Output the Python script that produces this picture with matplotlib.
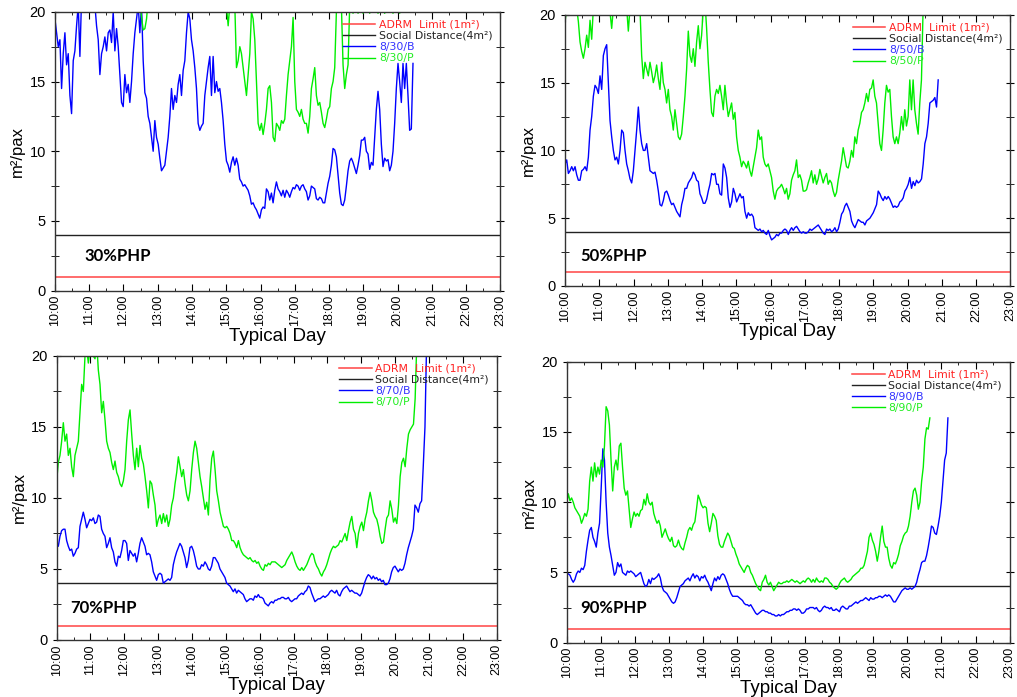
import matplotlib
matplotlib.use("Agg")
import matplotlib.pyplot as plt
import numpy as np
from matplotlib.ticker import MultipleLocator

plt.rcParams['font.family'] = ['Liberation Sans', 'DejaVu Sans']

# occupancy (m2/pax), regular samples (~3 min) between a start and end hour
b30 = [19.5, 18.5, 17.5, 18.0, 14.5, 17, 18.5, 16.2, 17, 14, 12.7, 16.5, 17.2, 19, 20.5, 16.8, 21, 21, 21, 21,
       21, 21, 21, 21, 20.5, 19, 18, 15.5, 17, 17.5, 18.2, 17.2, 18.5, 18.7, 17.8, 20, 17.2, 18.8, 17.5, 15.5,
       13.5, 13.2, 15.5, 14.2, 14.8, 13.5, 15, 17, 18.5, 19.5, 20.5, 18.5, 20.5, 16.5, 14.2, 13.8, 12.5, 12, 11, 10,
       12.2, 11, 10.5, 9.5, 8.6, 8.8, 9, 10, 11, 12.5, 14.5, 13, 14, 13.5, 14.8, 15.5, 14, 15.8, 16.5, 18.5,
       20, 19.5, 18, 17.2, 16, 14.5, 12, 11.5, 11.8, 12, 14, 15, 16, 16.8, 14, 16.8, 14.2, 15, 14.3, 14.5,
       13.5, 12.2, 10.5, 9.3, 9, 8.5, 9.2, 9.6, 9, 9.5, 9, 8, 7.8, 7.5, 7.6, 7.4, 7.2, 6.8, 6.2, 6.3,
       6, 5.8, 5.5, 5.2, 5.8, 6, 5.9, 7.3, 7.1, 6.5, 7, 6.3, 7.2, 7.8, 7.3, 7.1, 6.8, 7.2, 6.7, 7.2,
       7, 6.7, 7.1, 7.4, 7.3, 7.6, 7.5, 7.2, 7.5, 7.6, 7.3, 7.1, 6.5, 6.8, 7.5, 7.4, 7.3, 6.6, 6.5, 6.7,
       6.6, 6.3, 6.3, 7, 7.7, 8.2, 9, 10.2, 10.1, 9.6, 8.3, 7, 6.2, 6.1, 6.5, 7.5, 8.6, 9.3, 9.5, 9.2,
       8.8, 8.4, 9, 9.7, 10.8, 10.8, 11, 10, 9.8, 8.7, 9.2, 9, 11, 13, 14.3, 13, 10.5, 8.9, 9.5, 9.3,
       9.4, 8.6, 9, 10, 12, 14.5, 16.3, 15, 13.5, 16.3, 14.5, 16.3, 14, 11.5, 11.6, 16.3]
g30 = [21, 19.6, 18.7, 18.8, 19.5, 21,
       21.5, 22, 22.5, 22, 21.5, 22, 23, 22.5, 22, 21.5, 22, 22.5, 23, 22.5, 22, 21.5, 22, 22.5, 23, 22.5,
       22, 21.5, 22, 22.5, 23, 22.5, 22, 21.5, 22, 22.5, 23, 22.5, 22, 21.5, 22, 22.5, 23, 22.5, 22, 21.5,
       21, 20.8, 21, 21.5, 21, 20.8,
       20.4, 19.0, 20.5, 21, 21.5, 20.5, 16, 16.5, 17.5, 17, 16, 15, 14, 15.5, 17, 20, 19.5, 18, 15, 12,
       11.5, 12, 11.2, 12, 13, 14.5, 14.7, 13.5, 11, 10.7, 12, 11.8, 11.5, 12.2, 12, 12.3, 14, 15.5, 16.5, 17.5,
       19.6, 15, 13, 12.8, 12.5, 13, 12.3, 12, 12, 11.3, 12.5, 14.5, 15.2, 16, 14, 13.3, 13.5, 12.8, 12, 11.7,
       12.3, 13, 13.2, 14.5, 15, 16, 20, 20.5, 20.2, 20.5, 16.2, 14.5, 15.5, 16.2, 20.5,
       20.2, 19.9, 20.4, 20.6, 19.9, 20.3, 20.5, 19.9, 20.2, 20.6, 20.4, 19.9, 20.3, 20.6, 20.5, 20.2, 19.9,
       20.4, 20.6, 20.3, 19.9, 20.2, 20.5, 20.6, 20.3, 19.9, 20.4, 20.5, 20.2, 19.9, 20.3, 20.6, 20.4, 20.5,
       20.3, 20.6, 20.5, 20.4]
b50 = [9, 9.3, 8.3, 8.5, 8.8, 8.5, 8.8, 8.2, 7.8, 7.8, 8.5, 8.6, 8.8, 8.5, 9.5, 11.5, 12.5, 14, 14.8, 14.6,
       14.2, 15.5, 14.5, 17, 17.5, 17.8, 15, 12.2, 11, 10, 9.3, 9.5, 9.0, 10, 11.5, 11.3, 10, 9, 8.5, 7.9,
       7.6, 8.5, 10, 11.5, 13.2, 11.5, 10.5, 10, 10, 10.5, 9.5, 8.5, 8.4, 8.3, 8.4, 7.8, 7, 6, 5.9, 6.3,
       6.9, 7, 6.7, 6.3, 6, 6.1, 5.8, 5.5, 5.3, 5.1, 6, 6.5, 7.2, 7.2, 7.6, 7.8, 8, 8.4, 8.2, 7.8,
       7.7, 6.8, 6.5, 6.1, 6.1, 6.4, 7, 7.5, 8.3, 8.2, 8.3, 7.5, 7.5, 6.8, 6.7, 9, 8.7, 8, 6.5, 5.8,
       6.2, 7.2, 6.8, 6.2, 6.5, 6.8, 6.5, 6.6, 5.5, 5.0, 5.4, 5.2, 5.3, 5.1, 4.3, 4.2, 4.1, 4.2, 4, 4.1,
       3.9, 3.8, 4.1, 3.7, 3.4, 3.5, 3.6, 3.8, 3.7, 3.9, 3.9, 4.1, 4.2, 4.1, 3.8, 4.1, 4.3, 4.1, 4.3, 4.4,
       4.2, 4.0, 3.9, 4, 3.9, 3.9, 4, 4.2, 4.1, 4.2, 4.3, 4.4, 4.5, 4.3, 4.1, 3.9, 3.8, 4.2, 4.1, 4.2,
       4, 4.1, 4.3, 4.0, 4.2, 4.7, 5.3, 5.5, 5.9, 6.1, 5.8, 5.5, 4.8, 4.5, 4.3, 4.6, 4.9, 4.8, 4.7, 4.7,
       4.5, 4.8, 4.9, 5, 5.2, 5.4, 5.7, 6.0, 7, 6.8, 6.5, 6.3, 6.6, 6.4, 6.6, 6.4, 6.1, 5.8, 5.9, 5.8,
       5.9, 6.2, 6.3, 6.5, 7, 7.2, 7.5, 8, 7.2, 7.7, 7.4, 7.8, 7.6, 7.7, 7.9, 9, 10.5, 11, 12, 13.5,
       13.6, 13.7, 13.9, 13.2, 15.2]
g50 = [19.5, 20.5, 21, 21, 21, 21, 21, 20.5, 19.5, 18, 17.3, 16.8, 17.5, 18.5, 17.6, 19.6, 18.2, 20.5, 21, 21,
       21, 21, 21, 21, 21, 21, 20.5, 20.2, 19.0, 20.5, 21, 21, 21, 21, 21, 21, 21, 20.5, 18.8, 20.5,
       21, 21, 21, 21, 21, 20.5, 17, 15.3, 16.5, 16, 15.5, 16.5, 15.8, 15, 15.5, 16.3, 15.3, 14.5, 16.5, 15,
       14.5, 13.5, 14.5, 13, 12.5, 11.5, 13, 12, 11, 10.8, 11.2, 12.5, 14, 16, 18.8, 17, 16.5, 17.5, 16.2, 18,
       19.2, 17.5, 18.5, 20.5, 21, 19, 16.5, 14.5, 12.8, 12.5, 14, 14.5, 14.2, 14.8, 14, 13, 14.8, 13.5, 12.5, 13,
       13.5, 12.3, 12.8, 11, 10, 9.5, 8.8, 9.2, 9.0, 8.7, 9.2, 8.5, 8.1, 8.8, 9.5, 10.2, 11.5, 10.8, 11, 9.5,
       9, 8.8, 9, 8.5, 8, 7, 6.4, 7, 7.2, 7.3, 7.5, 7.2, 6.8, 7.2, 6.4, 6.8, 7.8, 8.2, 8.5, 9.3,
       8, 8.2, 7.8, 7, 7, 7.1, 7.6, 8, 8.5, 7.6, 8.2, 7.5, 7.9, 8.6, 8.1, 7.6, 8, 8.3, 7.5, 7.8,
       7.6, 7, 6.6, 6.9, 7.8, 8.5, 9.2, 10.2, 9.5, 8.8, 8.7, 9.2, 10, 9.5, 11, 10.5, 11.5, 12, 12.8, 13,
       13.5, 14.2, 13.6, 14.5, 14.6, 15.2, 14, 13.5, 12, 10.5, 10, 11.5, 13.5, 14.8, 14.3, 14.5, 12.5, 11, 10.5, 11,
       10.5, 11.3, 12.5, 11.5, 13, 11.8, 12.5, 15.2, 13, 15.2, 13, 12, 11.2, 13.5, 15.2, 20.5]
b70 = [6.8, 6.6, 7.3, 7.7, 7.8, 7.8, 7, 6.6, 6.3, 6.4, 5.9, 6.1, 6.4, 6.5, 8, 8.5, 9, 8.5, 7.9, 8.2,
       8.5, 8.4, 8.6, 8.2, 8.3, 8.8, 8.7, 7.8, 7.5, 7.3, 6.5, 6.8, 7.2, 6.5, 6.2, 5.5, 5.2, 5.9, 5.8, 6.3,
       7, 7, 6.8, 5.6, 6.3, 6.1, 5.9, 6.1, 5.5, 6.1, 6.8, 7.2, 6.9, 6.6, 6, 6.1, 6, 5.5, 4.8, 4.5,
       4.2, 4.6, 4.7, 4.6, 4.0, 4.1, 4.2, 4.3, 4.2, 4.4, 5.3, 5.8, 6.2, 6.5, 6.8, 6.6, 6.2, 5.8, 5.1, 5.6,
       6.5, 6.6, 6.3, 5.8, 5.2, 5.0, 5.0, 5.3, 5.2, 5.5, 5.3, 5.0, 4.9, 5.2, 5.8, 5.8, 5.6, 5.4, 5.0, 4.8,
       4.6, 4.4, 4.0, 3.9, 3.8, 3.6, 3.4, 3.6, 3.3, 3.5, 3.4, 3.3, 3.2, 2.9, 2.7, 2.8, 2.9, 2.9, 2.8, 3.1,
       3.0, 3.2, 3.0, 3.0, 2.9, 2.6, 2.5, 2.4, 2.6, 2.7, 2.6, 2.8, 2.8, 2.9, 2.9, 3.0, 3.0, 2.9, 2.9, 3.0,
       2.8, 2.7, 2.8, 2.9, 2.9, 3.1, 3.2, 3.3, 3.2, 3.4, 3.5, 3.8, 3.7, 3.3, 3.0, 2.7, 2.8, 2.9, 2.9, 3.0,
       3.1, 3.0, 3.1, 3.2, 3.4, 3.5, 3.4, 3.3, 3.5, 3.2, 3.1, 3.4, 3.6, 3.7, 3.8, 3.6, 3.4, 3.5, 3.4, 3.3,
       3.3, 3.2, 3.1, 3.3, 3.7, 4.1, 4.4, 4.6, 4.5, 4.3, 4.5, 4.3, 4.4, 4.2, 4.3, 4.1, 4.2, 3.9, 3.9, 4.0,
       4.3, 4.8, 5.1, 5.2, 5.0, 4.8, 5.0, 4.9, 5.0, 5.4, 6.0, 6.5, 6.9, 7.3, 7.8, 9.5, 9.3, 9.0, 9.6, 9.8,
       12.3, 15, 21]
g70 = [11.2, 12.5, 13, 14, 15.3, 14, 14.5, 13, 13.5, 12.2, 11.5, 13, 13.5, 14, 16, 18, 17.5, 20, 20.5, 19.5,
       20.5, 21, 20, 19.8, 21, 19, 18, 16, 16.8, 15.5, 14, 13.5, 13.2, 12.5, 12, 12.6, 11.8, 11.5, 11, 10.8,
       11.2, 12, 14, 15.5, 16.2, 14.5, 13, 12, 13.5, 12.2, 13.7, 12.8, 12.4, 11.5, 10.5, 9.3, 11.2, 11, 10.2, 9.5,
       8, 8.5, 8.8, 8.2, 8.9, 8.3, 8.8, 8, 8.5, 9.5, 10, 11, 11.8, 12.9, 12.2, 11.5, 12, 11, 10.2, 9.8,
       10.5, 12, 13.2, 14, 13.5, 12.5, 11.5, 10.8, 10, 9.2, 9.7, 8.8, 11.3, 12.8, 13.3, 12, 10.5, 9.8, 9, 8.5,
       8, 7.9, 8, 7.8, 7.5, 7, 7, 6.8, 6.5, 7, 6.5, 6.2, 6, 5.9, 5.8, 5.7, 5.8, 5.6, 5.5, 5.6,
       5.4, 5.5, 5.2, 5.0, 4.9, 5.3, 5.2, 5.4, 5.3, 5.5, 5.5, 5.5, 5.4, 5.3, 5.2, 5.1, 5.2, 5.3, 5.6, 5.8,
       6.0, 6.2, 5.9, 5.5, 5.2, 5.0, 4.9, 5.1, 4.9, 5.1, 5.3, 5.6, 5.9, 6.1, 6.0, 5.5, 5.2, 5.0, 4.7, 4.5,
       4.8, 5.0, 5.3, 5.7, 6.1, 6.4, 6.6, 6.5, 6.6, 6.7, 7.0, 6.9, 7.2, 7.5, 7.0, 7.7, 8.3, 8.7, 7.8, 7.5,
       6.5, 7.5, 8.0, 8.3, 7.7, 8.5, 9.0, 9.8, 10.4, 9.8, 9.0, 8.7, 8.5, 8.0, 7.3, 6.8, 6.9, 7.8, 8.6, 8.8,
       9.8, 9.2, 8.3, 8.6, 8.2, 9.5, 11.5, 12.5, 12.8, 12.2, 13.5, 14.5, 14.8, 15, 15.2, 17, 21]
b90 = [4.9, 4.9, 4.8, 4.5, 4.3, 4.5, 4.9, 5.1, 5.0, 5.3, 5.2, 5.5, 6.5, 7.3, 8.0, 8.2, 7.5, 7.2, 6.8, 7.8,
       8.5, 11, 13.8, 13, 10, 7.8, 6.8, 6.2, 5.5, 4.8, 5.0, 5.7, 5.4, 5.6, 5.0, 4.9, 4.8, 5.1, 5.0, 5.1,
       5.0, 4.9, 4.7, 4.8, 4.9, 5.0, 4.6, 4.2, 4.0, 4.1, 4.5, 4.2, 4.6, 4.5, 4.6, 4.7, 4.9, 4.6, 4.0, 3.7,
       3.6, 3.5, 3.3, 3.1, 2.9, 2.8, 2.9, 3.2, 3.6, 4.0, 4.1, 4.2, 4.4, 4.5, 4.6, 4.4, 4.7, 4.9, 4.6, 4.8,
       4.7, 4.4, 4.7, 4.6, 4.8, 4.5, 4.3, 4.0, 3.7, 4.2, 4.6, 4.4, 4.7, 4.5, 4.8, 4.9, 4.8, 4.5, 4.2, 3.8,
       3.5, 3.3, 3.3, 3.3, 3.3, 3.2, 3.1, 3.0, 2.8, 2.7, 2.7, 2.6, 2.7, 2.5, 2.3, 2.1, 2.0, 2.1, 2.2, 2.3,
       2.3, 2.2, 2.2, 2.1, 2.1, 2.0, 2.0, 1.9, 1.9, 2.0, 1.9, 2.0, 2.0, 2.1, 2.2, 2.2, 2.3, 2.3, 2.4, 2.4,
       2.3, 2.4, 2.3, 2.1, 2.1, 2.2, 2.4, 2.4, 2.5, 2.5, 2.5, 2.4, 2.5, 2.3, 2.2, 2.3, 2.5, 2.6, 2.5, 2.5,
       2.4, 2.5, 2.3, 2.3, 2.4, 2.3, 2.2, 2.5, 2.6, 2.5, 2.4, 2.4, 2.6, 2.6, 2.7, 2.8, 2.9, 2.8, 2.9, 3.0,
       3.0, 3.1, 3.2, 3.1, 3.0, 3.2, 3.1, 3.1, 3.2, 3.2, 3.3, 3.3, 3.2, 3.3, 3.4, 3.3, 3.4, 3.3, 3.1, 2.9,
       2.9, 3.1, 3.3, 3.5, 3.7, 3.8, 3.9, 3.8, 3.8, 3.9, 3.8, 3.9, 4.0, 4.3, 4.8, 5.2, 5.7, 5.8, 5.8, 6.2,
       6.8, 7.5, 8.3, 8.2, 7.8, 7.7, 8.3, 9.0, 10.0, 11.5, 13.0, 13.5, 16.0]
g90 = [9.9, 10.6, 10.1, 10.3, 10, 9.6, 9.4, 9.2, 9.0, 8.5, 8.8, 9.2, 9.0, 9.5, 11.5, 12.5, 11.5, 12.8, 11.8, 12.5,
       12.0, 13, 12.5, 14, 16.8, 16.5, 15.5, 13, 10.8, 12.5, 13, 12.3, 14, 14.2, 12.5, 11, 10.5, 10.8, 9.5, 8.2,
       8.8, 9.3, 9.0, 9.2, 9.0, 9.4, 9.5, 10.2, 9.8, 10.6, 10.0, 9.8, 10.0, 9.2, 8.8, 8.5, 8.7, 8.3, 7.5, 7.8,
       8.1, 7.7, 7.4, 7.2, 7.5, 6.9, 6.8, 6.9, 7.3, 6.9, 6.7, 6.6, 7.1, 7.5, 8.0, 8.2, 8.0, 8.4, 8.6, 9.5,
       10.5, 10.2, 9.8, 9.6, 9.7, 9.6, 8.5, 7.9, 8.5, 9.2, 9.0, 8.7, 7.6, 7.0, 6.8, 6.8, 7.2, 7.5, 7.8, 7.6,
       7.2, 6.8, 6.7, 6.3, 6.0, 5.6, 5.4, 5.2, 5.0, 5.3, 5.5, 5.4, 5.0, 4.8, 4.5, 4.2, 4.0, 3.8, 3.7, 4.3,
       4.5, 4.8, 4.3, 4.1, 4.3, 4.0, 3.7, 3.9, 4.1, 4.3, 4.2, 4.2, 4.3, 4.3, 4.4, 4.3, 4.4, 4.5, 4.4, 4.3,
       4.4, 4.3, 4.2, 4.3, 4.4, 4.3, 4.5, 4.6, 4.5, 4.3, 4.5, 4.3, 4.6, 4.4, 4.3, 4.4, 4.3, 4.6, 4.6, 4.5,
       4.3, 4.2, 4.0, 3.9, 3.8, 3.9, 4.2, 4.4, 4.5, 4.6, 4.4, 4.3, 4.4, 4.5, 4.7, 4.8, 4.9, 5.0, 5.1, 5.3,
       5.3, 5.5, 6.0, 6.5, 7.5, 7.8, 7.3, 7.0, 6.5, 5.8, 6.5, 7.5, 8.3, 7.2, 6.8, 6.8, 6.0, 5.5, 5.3, 5.7,
       5.6, 5.9, 6.3, 6.9, 7.2, 7.6, 7.8, 7.9, 8.3, 9.0, 10.0, 10.8, 11.0, 10.5, 9.5, 10.0, 11.5, 12.5, 14.5,
       15.3, 15.2, 16]

# first / last sample hour of each series
span_b = {30: (10.0, 20.45), 50: (10.0, 20.89), 70: (10.0, 20.93), 90: (10.0, 21.19)}
span_g = {30: (12.48, 20.45), 50: (10.0, 20.45), 70: (10.0, 20.64), 90: (10.0, 20.66)}
blue = {30: b30, 50: b50, 70: b70, 90: b90}
green = {30: g30, 50: g50, 70: g70, 90: g90}

ADRM = 1
SOCIAL = 4
hours = list(range(10, 24))
hour_labels = ['{}:00'.format(h) for h in hours]

rects = {30: [0.054, 0.583, 0.438, 0.400],
         50: [0.5556, 0.5897, 0.438, 0.389],
         70: [0.0557, 0.0818, 0.4327, 0.4075],
         90: [0.5572, 0.078, 0.4355, 0.403]}
label_pos = {30: (10.85, 2.45), 50: (10.44, 2.2), 70: (10.39, 2.25), 90: (10.41, 2.45)}

fig = plt.figure(figsize=(10.17, 6.97), dpi=100)

for php in [30, 50, 70, 90]:
    ax = fig.add_axes(rects[php])
    ax.axhline(ADRM, color='#ff4444', lw=1.1, label='ADRM  Limit (1m²)')
    ax.axhline(SOCIAL, color='#222222', lw=1, label='Social Distance(4m²)')
    tb = np.linspace(span_b[php][0], span_b[php][1], len(blue[php]))
    tg = np.linspace(span_g[php][0], span_g[php][1], len(green[php]))
    ax.plot(tb, blue[php], color='#0000ff', lw=1.0, label='8/{}/B'.format(php))
    ax.plot(tg, green[php], color='#00ee00', lw=1.0, label='8/{}/P'.format(php))

    ax.set_xlim(10, 23)
    ax.set_ylim(0, 20)
    ax.set_xticks(hours)
    ax.set_xticklabels(hour_labels, rotation=90, fontsize=9)
    ax.xaxis.set_minor_locator(MultipleLocator(0.5))
    ax.yaxis.set_major_locator(MultipleLocator(5))
    ax.yaxis.set_minor_locator(MultipleLocator(2.5))
    ax.tick_params(axis='x', which='both', direction='in', top=True, pad=3)
    ax.tick_params(axis='x', which='major', length=5)
    ax.tick_params(axis='x', which='minor', length=2)
    ax.tick_params(axis='y', which='both', direction='inout', right=True, length=6, labelsize=10.5)
    for s in ax.spines.values():
        s.set_linewidth(1.0)
        s.set_color('#333333')

    ax.set_xlabel('Typical Day', fontsize=13.5, labelpad=1)
    ax.set_ylabel('m²/pax', fontsize=12, labelpad=3)

    leg = ax.legend(loc='upper right', frameon=False, handlelength=3.0,
                    handletextpad=0.35, labelspacing=0.12, borderaxespad=0.3,
                    prop={'family': 'DejaVu Sans', 'size': 7.8})
    for txt, c in zip(leg.get_texts(), ['#ff2222', '#222222', '#3333ff', '#22ee22']):
        txt.set_color(c)

    lx, ly = label_pos[php]
    ax.text(lx, ly, '{}%PHP'.format(php), fontsize=12, fontweight='bold',
            family=['Lato', 'DejaVu Sans'], ha='left', va='center')

fig.savefig('out.png', dpi=100)
